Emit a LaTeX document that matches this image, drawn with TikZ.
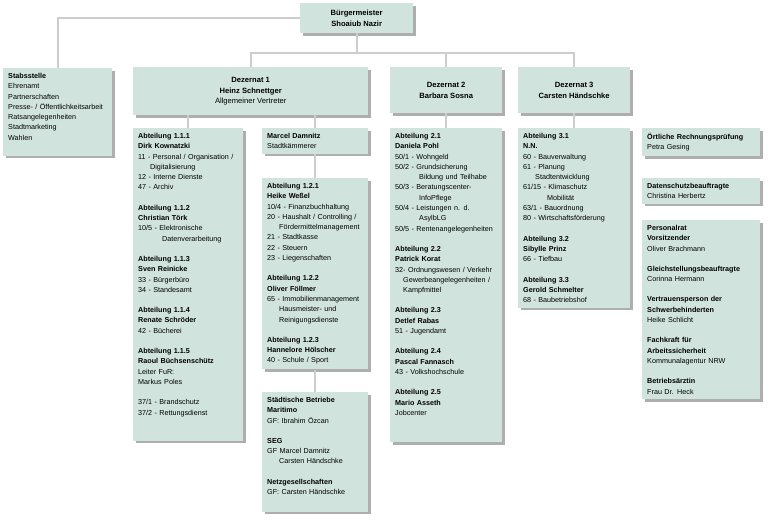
\documentclass[tikz,border=0pt]{standalone}
\usepackage{fontspec}
\setmainfont{Liberation Sans}
\usetikzlibrary{shadows,positioning}
\definecolor{boxfill}{HTML}{D0E3DC}
\definecolor{linegray}{HTML}{CDCDCD}
\tikzset{
  box/.style={rectangle, fill=boxfill, anchor=north west, align=left,
    inner xsep=5pt, inner ysep=5pt,
    font=\fontsize{7.2}{10.3}\selectfont,
    drop shadow={shadow xshift=2.5pt, shadow yshift=-2.5pt, fill=black!45, opacity=.7}},
  head/.style={box, align=center, font=\fontsize{7.6}{10.5}\selectfont},
  conn/.style={draw=linegray, line width=2pt},
}
\newcommand{\hang}{\hspace*{12pt}}
\newcommand{\pad}[1]{\\\rule{0pt}{#1}}
\begin{document}
\begin{tikzpicture}[x=1pt, y=-1pt]
  \useasboundingbox (0,0) rectangle (768,520);
  % Spitze
  \node[head, minimum width=113pt, minimum height=30pt] (bm) at (300,3) {\textbf{Bürgermeister}\\\textbf{Shoaiub Nazir}};
  \node[box, text width=99pt] (stab) at (3,68) {\textbf{Stabsstelle}\\Ehrenamt\\Partnerschaften\\Presse- / Öffentlichkeitsarbeit\\Ratsangelegenheiten\\Stadtmarketing\\Wahlen\pad{10pt}};

  % Dezernate
  \node[head, minimum width=235pt, minimum height=48pt] (dez1) at (133,67) {\textbf{Dezernat 1}\\\textbf{Heinz Schnettger}\\Allgemeiner Vertreter};
  \node[head, minimum width=112pt, minimum height=46pt] (dez2) at (390,67) {\textbf{Dezernat 2}\\\textbf{Barbara Sosna}};
  \node[head, minimum width=112pt, minimum height=46pt] (dez3) at (518,67) {\textbf{Dezernat 3}\\\textbf{Carsten Händschke}};

  % Dezernat 1
  \node[box, text width=100pt] (abt11) at (133,128) {\textbf{Abteilung 1.1.1}\\\textbf{Dirk Kownatzki}\\11 - Personal / Organisation /\\\hang Digitalisierung\\12 - Interne Dienste\\47 - Archiv\\[10pt]
    \textbf{Abteilung 1.1.2}\\\textbf{Christian Törk}\\10/5 - Elektronische\\\hang\hang Datenverarbeitung\\[10pt]
    \textbf{Abteilung 1.1.3}\\\textbf{Sven Reinicke}\\33 - Bürgerbüro\\34 - Standesamt\\[10pt]
    \textbf{Abteilung 1.1.4}\\\textbf{Renate Schröder}\\42 - Bücherei\\[10pt]
    \textbf{Abteilung 1.1.5}\\\textbf{Raoul Büchsenschütz}\\Leiter FuR:\\Markus Poles\\[10pt]
    37/1 - Brandschutz\\37/2 - Rettungsdienst\pad{18pt}};
  \node[box, text width=96pt] (damnitz) at (262,128) {\textbf{Marcel Damnitz}\\Stadtkämmerer};
  \node[box, text width=96pt] (abt12) at (262,178) {\textbf{Abteilung 1.2.1}\\\textbf{Heike Weßel}\\10/4 - Finanzbuchhaltung\\20 - Haushalt / Controlling /\\\hang Fördermittelmanagement\\21 - Stadtkasse\\22 - Steuern\\23 - Liegenschaften\\[10pt]
    \textbf{Abteilung 1.2.2}\\\textbf{Oliver Föllmer}\\65 - Immobilienmanagement\\\hang Hausmeister- und\\\hang Reinigungsdienste\\[10pt]
    \textbf{Abteilung 1.2.3}\\\textbf{Hannelore Hölscher}\\40 - Schule / Sport};
  \node[box, text width=96pt] (betriebe) at (262,392) {\textbf{Städtische Betriebe}\\\textbf{Maritimo}\\GF: Ibrahim Özcan\\[10pt]
    \textbf{SEG}\\GF Marcel Damnitz\\\hang Carsten Händschke\\[10pt]
    \textbf{Netzgesellschaften}\\GF: Carsten Händschke\pad{11pt}};

  % Dezernat 2
  \node[box, text width=102pt] (abt2) at (390,128) {\textbf{Abteilung 2.1}\\\textbf{Daniela Pohl}\\50/1 - Wohngeld\\50/2 - Grundsicherung\\\hang\hang Bildung und Teilhabe\\50/3 - Beratungscenter-\\\hang\hang InfoPflege\\50/4 - Leistungen n. d.\\\hang\hang AsylbLG\\50/5 - Rentenangelegenheiten\\[10pt]
    \textbf{Abteilung 2.2}\\\textbf{Patrick Korat}\\32- Ordnungswesen / Verkehr\\\hspace*{8pt}Gewerbeangelegenheiten /\\\hspace*{8pt}Kampfmittel\\[10pt]
    \textbf{Abteilung 2.3}\\\textbf{Detlef Rabas}\\51 - Jugendamt\\[10pt]
    \textbf{Abteilung 2.4}\\\textbf{Pascal Fannasch}\\43 - Volkshochschule\\[10pt]
    \textbf{Abteilung 2.5}\\\textbf{Mario Asseth}\\Jobcenter\pad{21pt}};

  % Dezernat 3
  \node[box, text width=102pt] (abt3) at (518,128) {\textbf{Abteilung 3.1}\\\textbf{N.N.}\\60 - Bauverwaltung\\61 - Planung\\\hang Stadtentwicklung\\61/15 - Klimaschutz\\\hang\hang Mobilität\\63/1 - Bauordnung\\80 - Wirtschaftsförderung\\[10pt]
    \textbf{Abteilung 3.2}\\\textbf{Sibylle Prinz}\\66 - Tiefbau\\[10pt]
    \textbf{Abteilung 3.3}\\\textbf{Gerold Schmelter}\\68 - Baubetriebshof};

  % Rechte Spalte
  \node[box, text width=108pt] (rpa) at (642,128) {\textbf{Örtliche Rechnungsprüfung}\\Petra Gesing};
  \node[box, text width=108pt] (dsb) at (642,178) {\textbf{Datenschutzbeauftragte}\\Christina Herbertz};
  \node[box, text width=108pt] (prat) at (642,220) {\textbf{Personalrat}\\\textbf{Vorsitzender}\\Oliver Brachmann\\[10pt]
    \textbf{Gleichstellungsbeauftragte}\\Corinna Hermann\\[10pt]
    \textbf{Vertrauensperson der}\\\textbf{Schwerbehinderten}\\Heike Schlicht\\[10pt]
    \textbf{Fachkraft für}\\\textbf{Arbeitssicherheit}\\Kommunalagentur NRW\\[10pt]
    \textbf{Betriebsärztin}\\Frau Dr. Heck};

  % Verbindungen
  \draw[conn] (bm.west) -| (stab.north);
  \draw[conn] (bm.south) -- ++(0,20) coordinate (bus);
  \draw[conn] (dez1.north) |- (bus) -| (dez3.north);
  \draw[conn] (dez2.north) |- (bus);
  \draw[conn] (dez1.south -| abt11.north) -- (abt11.north);
  \draw[conn] (dez1.south -| damnitz.north) -- (damnitz.north);
  \draw[conn] (damnitz) -- (abt12);
  \draw[conn] (abt12) -- (betriebe);
  \draw[conn] (dez2) -- (abt2);
  \draw[conn] (dez3) -- (abt3);
\end{tikzpicture}
\end{document}
